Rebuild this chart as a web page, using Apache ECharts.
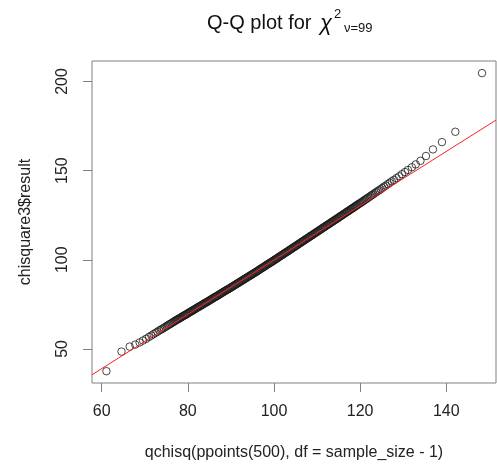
<!DOCTYPE html>
<html>
<head>
<meta charset="utf-8">
<script src="https://cdn.jsdelivr.net/npm/echarts@6/dist/echarts.min.js"></script>
<style>
  html, body { margin: 0; padding: 0; background: #fff; }
  #chart { width: 497px; height: 466px; }
</style>
</head>
<body>
<div id="chart"></div>
<script>
// ---- tick labels ----
const xTickValues = [60, 80, 100, 120, 140];
const yTickValues = [50, 100, 150, 200];

// ---- text ----
const titleMain = "Q-Q plot for";
const titleChi = "χ";
const titleSup = "2";
const titleSub = "ν=99";
const xAxisName = "qchisq(ppoints(500), df = sample_size - 1)";
const yAxisName = "chisquare3$result";

// ---- data: theoretical quantiles (x) and sorted sample values (y) ----
const lowerTailX = [61.1,64.6,66.5,67.8,68.8,69.6,70.33,70.96,71.53,72.04,72.51,72.94,73.35,73.73,74.09,74.44,74.77,75.08,75.37,75.65,75.92,76.18,76.43,76.67,76.9];
const lowerTailY = [37.5,48.5,51.3,52.4,53.6,54.7,55.7,56.7,57.5,58.3,59.0,59.6,60.3,60.8,61.3,61.8,62.3,62.8,63.2,63.7,64.0,64.4,64.8,65.1,65.5];

const bodyX = [
77.1,77.3,77.5,77.7,77.9, 78.1,78.3,78.5,78.7,78.9, 79.1,79.3,79.5,79.7,79.9,
80.1,80.3,80.5,80.7,80.9, 81.1,81.3,81.5,81.7,81.9, 82.1,82.3,82.5,82.7,82.9,
83.1,83.3,83.5,83.7,83.9, 84.1,84.3,84.5,84.7,84.9, 85.1,85.3,85.5,85.7,85.9,
86.1,86.3,86.5,86.7,86.9, 87.1,87.3,87.5,87.7,87.9, 88.1,88.3,88.5,88.7,88.9,
89.1,89.3,89.5,89.7,89.9, 90.1,90.3,90.5,90.7,90.9, 91.1,91.3,91.5,91.7,91.9,
92.1,92.3,92.5,92.7,92.9, 93.1,93.3,93.5,93.7,93.9, 94.1,94.3,94.5,94.7,94.9,
95.1,95.3,95.5,95.7,95.9, 96.1,96.3,96.5,96.7,96.9, 97.1,97.3,97.5,97.7,97.9,
98.1,98.3,98.5,98.7,98.9, 99.1,99.3,99.5,99.7,99.9, 100.1,100.3,100.5,100.7,100.9,
101.1,101.3,101.5,101.7,101.9, 102.1,102.3,102.5,102.7,102.9, 103.1,103.3,103.5,103.7,103.9,
104.1,104.3,104.5,104.7,104.9, 105.1,105.3,105.5,105.7,105.9, 106.1,106.3,106.5,106.7,106.9,
107.1,107.3,107.5,107.7,107.9, 108.1,108.3,108.5,108.7,108.9, 109.1,109.3,109.5,109.7,109.9,
110.1,110.3,110.5,110.7,110.9, 111.1,111.3,111.5,111.7,111.9, 112.1,112.3,112.5,112.7,112.9,
113.1,113.3,113.5,113.7,113.9, 114.1,114.3,114.5,114.7,114.9, 115.1,115.3,115.5,115.7,115.9,
116.1,116.3,116.5,116.7,116.9, 117.1,117.3,117.5
];
const bodyY = [
65.8,66.1,66.4,66.6,66.9, 67.2,67.5,67.8,68.1,68.4, 68.7,68.9,69.2,69.5,69.8,
70.1,70.4,70.7,71.0,71.2, 71.5,71.8,72.1,72.4,72.7, 73.0,73.3,73.6,73.8,74.1,
74.4,74.7,75.0,75.3,75.6, 75.9,76.1,76.4,76.7,77.0, 77.3,77.6,77.9,78.2,78.5,
78.8,79.1,79.3,79.6,79.9, 80.2,80.5,80.8,81.1,81.4, 81.7,82.0,82.3,82.6,82.9,
83.2,83.4,83.7,84.0,84.3, 84.6,84.9,85.2,85.5,85.8, 86.1,86.4,86.7,87.0,87.3,
87.6,87.9,88.2,88.5,88.8, 89.1,89.4,89.7,90.0,90.3, 90.6,90.9,91.2,91.5,91.8,
92.1,92.4,92.7,93.0,93.3, 93.6,93.9,94.3,94.6,94.9, 95.2,95.5,95.8,96.1,96.4,
96.8,97.1,97.4,97.7,98.0, 98.3,98.6,98.9,99.2,99.5, 99.9,100.2,100.5,100.8,101.1,
101.5,101.8,102.1,102.4,102.7, 103.0,103.4,103.7,104.0,104.3, 104.6,104.9,105.3,105.6,105.9,
106.2,106.5,106.9,107.2,107.5, 107.8,108.1,108.5,108.8,109.1, 109.4,109.8,110.1,110.4,110.7,
111.0,111.4,111.7,112.0,112.3, 112.6,113.0,113.3,113.6,113.9, 114.2,114.6,114.9,115.2,115.5,
115.8,116.2,116.5,116.8,117.1, 117.5,117.8,118.1,118.4,118.7, 119.1,119.4,119.7,120.0,120.3,
120.7,121.0,121.3,121.6,121.9, 122.3,122.6,122.9,123.2,123.5, 123.9,124.2,124.5,124.8,125.2,
125.5,125.8,126.1,126.5,126.8, 127.1,127.4,127.7
];

const upperTailX = [117.7,117.89,118.09,118.28,118.48,118.68,118.87,119.07,119.26,119.48,119.72,119.96,
120.2,120.45,120.69,120.93,121.17,121.41,121.65,121.92,122.21,122.5,122.79,123.08,
123.4,123.73,124.07,124.42,124.78,125.16,125.56,125.97,126.41,126.87,127.35,127.87,128.43,129.05,129.7,130.4,131.1,132.0,132.9,
134.0,135.3,136.9,139.0,142.1,148.3];
const upperTailY = [128.1,128.4,128.7,129.0,129.3,129.7,130.0,130.3,130.6,131.0,131.4,131.7,
132.1,132.5,132.9,133.3,133.7,134.1,134.5,134.9,135.4,135.9,136.4,136.8,
137.4,137.9,138.5,139.0,139.6,140.3,141.0,141.6,142.4,143.2,144.0,144.8,145.8,146.8,148.0,149.2,150.4,151.9,153.5,
155.5,158.2,161.9,166.0,171.8,204.7];

// reference (qq) line endpoints read at the plot edges
const refLineX = [57.75, 151.54];
const refLineY = [35.5, 178.35];

function zip(xs, ys) {
  const n = Math.min(xs.length, ys.length);
  const out = [];
  for (let i = 0; i < n; i++) out.push([xs[i], ys[i]]);
  return out;
}
const points = zip(lowerTailX, lowerTailY).concat(zip(bodyX, bodyY), zip(upperTailX, upperTailY));

const FONT = '"Liberation Sans", Arial, Helvetica, sans-serif';
const chart = echarts.init(document.getElementById('chart'), null, { renderer: 'canvas' });
chart.setOption({
  animation: false,
  backgroundColor: '#ffffff',
  textStyle: { fontFamily: FONT },
  grid: { left: 92, right: 1, top: 61, bottom: 81, show: true, borderColor: '#808080', borderWidth: 1, backgroundColor: 'transparent' },
  xAxis: {
    type: 'value', min: 57.75, max: 151.54,
    name: xAxisName, nameLocation: 'middle', nameGap: 62,
    nameTextStyle: { fontSize: 16, color: '#222', fontFamily: FONT },
    axisLine: { show: false },
    axisTick: { show: true, length: 9, customValues: xTickValues, lineStyle: { color: '#808080', width: 1 } },
    axisLabel: { customValues: xTickValues, margin: 21, fontSize: 16, color: '#222', fontFamily: FONT },
    splitLine: { show: false }
  },
  yAxis: {
    type: 'value', min: 30.87, max: 211.5,
    name: yAxisName, nameLocation: 'middle', nameGap: 58, nameRotate: 90,
    nameTextStyle: { fontSize: 16, color: '#222', fontFamily: FONT },
    axisLine: { show: false },
    axisTick: { show: true, length: 9, customValues: yTickValues, lineStyle: { color: '#808080', width: 1 } },
    axisLabel: { customValues: yTickValues, rotate: 90, margin: 21, fontSize: 16, color: '#222', fontFamily: FONT },
    splitLine: { show: false }
  },
  graphic: [
    { type: 'text', silent: true, style: { x: 207, y: 23, text: titleMain, font: '20px ' + FONT, fill: '#111', align: 'left', verticalAlign: 'middle' } },
    { type: 'text', silent: true, style: { x: 320, y: 24, text: titleChi, font: 'italic 22px ' + FONT, fill: '#111', align: 'left', verticalAlign: 'middle' } },
    { type: 'text', silent: true, style: { x: 334, y: 14, text: titleSup, font: '13px ' + FONT, fill: '#111', align: 'left', verticalAlign: 'middle' } },
    { type: 'text', silent: true, style: { x: 344, y: 28, text: titleSub, font: '13px ' + FONT, fill: '#111', align: 'left', verticalAlign: 'middle' } }
  ],
  series: [
    {
      type: 'scatter', data: points, symbol: 'circle', symbolSize: 7.5, silent: true,
      itemStyle: { color: 'rgba(0,0,0,0)', borderColor: '#1a1a1a', borderWidth: 1 },
      z: 2
    },
    {
      type: 'line', data: zip(refLineX, refLineY), symbol: 'none', silent: true,
      lineStyle: { color: '#ff2020', width: 1 }, z: 3
    }
  ]
});
</script>
</body>
</html>
